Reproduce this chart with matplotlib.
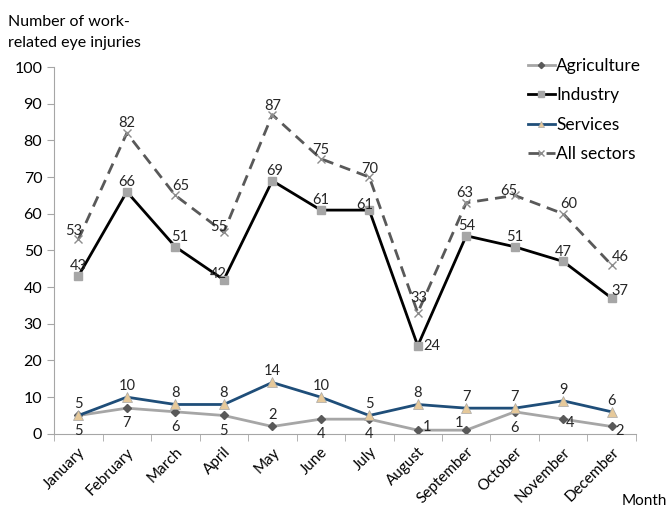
import numpy as np
import matplotlib.pyplot as plt

plt.rcParams['font.family'] = ['Lato', 'DejaVu Sans']

months = ["January", "February", "March", "April", "May", "June", "July",
          "August", "September", "October", "November", "December"]
agriculture = [5, 7, 6, 5, 2, 4, 4, 1, 1, 6, 4, 2]
industry = [43, 66, 51, 42, 69, 61, 61, 24, 54, 51, 47, 37]
services = [5, 10, 8, 8, 14, 10, 5, 8, 7, 7, 9, 6]
all_sectors = [53, 82, 65, 55, 87, 75, 70, 33, 63, 65, 60, 46]

# label offsets (points) per series
agri_off = [(0, -11), (0, -11), (0, -11), (0, -11), (0, 8), (0, -11),
            (0, -11), (7, 2), (-5, 5), (0, -12), (5, -3), (6, -3)]
ind_off = [(0, 7), (0, 7), (3, 7), (-4, 4), (2, 7), (0, 7),
           (-3, 4), (10, 0), (0, 7), (0, 7), (0, 7), (6, 5)]
serv_off = [(0, 8), (0, 8), (0, 8), (0, 8), (0, 8), (0, 8),
            (0, 8), (0, 8), (0, 8), (0, 8), (0, 8), (0, 8)]
all_off = [(-3, 6), (0, 7), (4, 7), (-4, 4), (0, 6), (0, 6),
           (0, 6), (1, 11), (-1, 7), (-4, 3), (4, 7), (6, 6)]

x = np.arange(len(months))

fig = plt.figure(figsize=(6.68, 5.08), dpi=100)
ax = fig.add_axes([0.081, 0.146, 0.871, 0.722])

ax.plot(x, agriculture, color='#a6a6a6', lw=2, marker='D', ms=4.5,
        mfc='#595959', mec='#595959', label='Agriculture')
ax.plot(x, industry, color='black', lw=2, marker='s', ms=6,
        mfc='#a6a6a6', mec='#a6a6a6', label='Industry')
ax.plot(x, services, color='#1f4e79', lw=2, marker='^', ms=7,
        mfc='#e6c99a', mec='#a6a6a6', mew=0.5, label='Services')
ax.plot(x, all_sectors, color='#595959', lw=2, ls=(0, (4, 2.5)), marker='x',
        ms=6, mec='#8c8c8c', mew=1, label='All sectors')

for vals, offs in [(agriculture, agri_off), (industry, ind_off),
                   (services, serv_off), (all_sectors, all_off)]:
    for xi, v, (dx, dy) in zip(x, vals, offs):
        ax.annotate(str(v), (xi, v), xytext=(dx, dy), textcoords='offset points',
                    ha='center', va='center', fontsize=10.5, color='#262626')

ax.set_xlim(-0.5, 11.5)
ax.set_ylim(0, 100)
ax.set_yticks(range(0, 101, 10))
ax.set_xticks(x)
ax.set_xticklabels(months, rotation=45, ha='right', rotation_mode='anchor',
                   fontsize=11)
ax.set_xticks(np.arange(-0.5, 12, 1), minor=True)
ax.tick_params(axis='x', which='major', length=0, pad=8)
ax.tick_params(axis='x', which='minor', length=5, color='#a6a6a6')
ax.tick_params(axis='y', length=5, color='#a6a6a6', labelsize=11.5)

for s in ['top', 'right']:
    ax.spines[s].set_visible(False)
ax.spines['left'].set_color('#a6a6a6')
ax.spines['bottom'].set_color('#a6a6a6')

ax.legend(loc='upper left', bbox_to_anchor=(0.814, 1.024), frameon=False,
          fontsize=12.5, handlelength=1.55, handletextpad=0.1,
          labelspacing=0.76, borderpad=0, borderaxespad=0, markerscale=0.7)

fig.text(0.012, 0.97, "Number of work-\nrelated eye injuries", ha='left',
         va='top', fontsize=11.5, linespacing=1.65)
fig.text(0.93, 0.0, "Month", ha='left', va='bottom', fontsize=11)

fig.savefig('out.png', dpi=100)
